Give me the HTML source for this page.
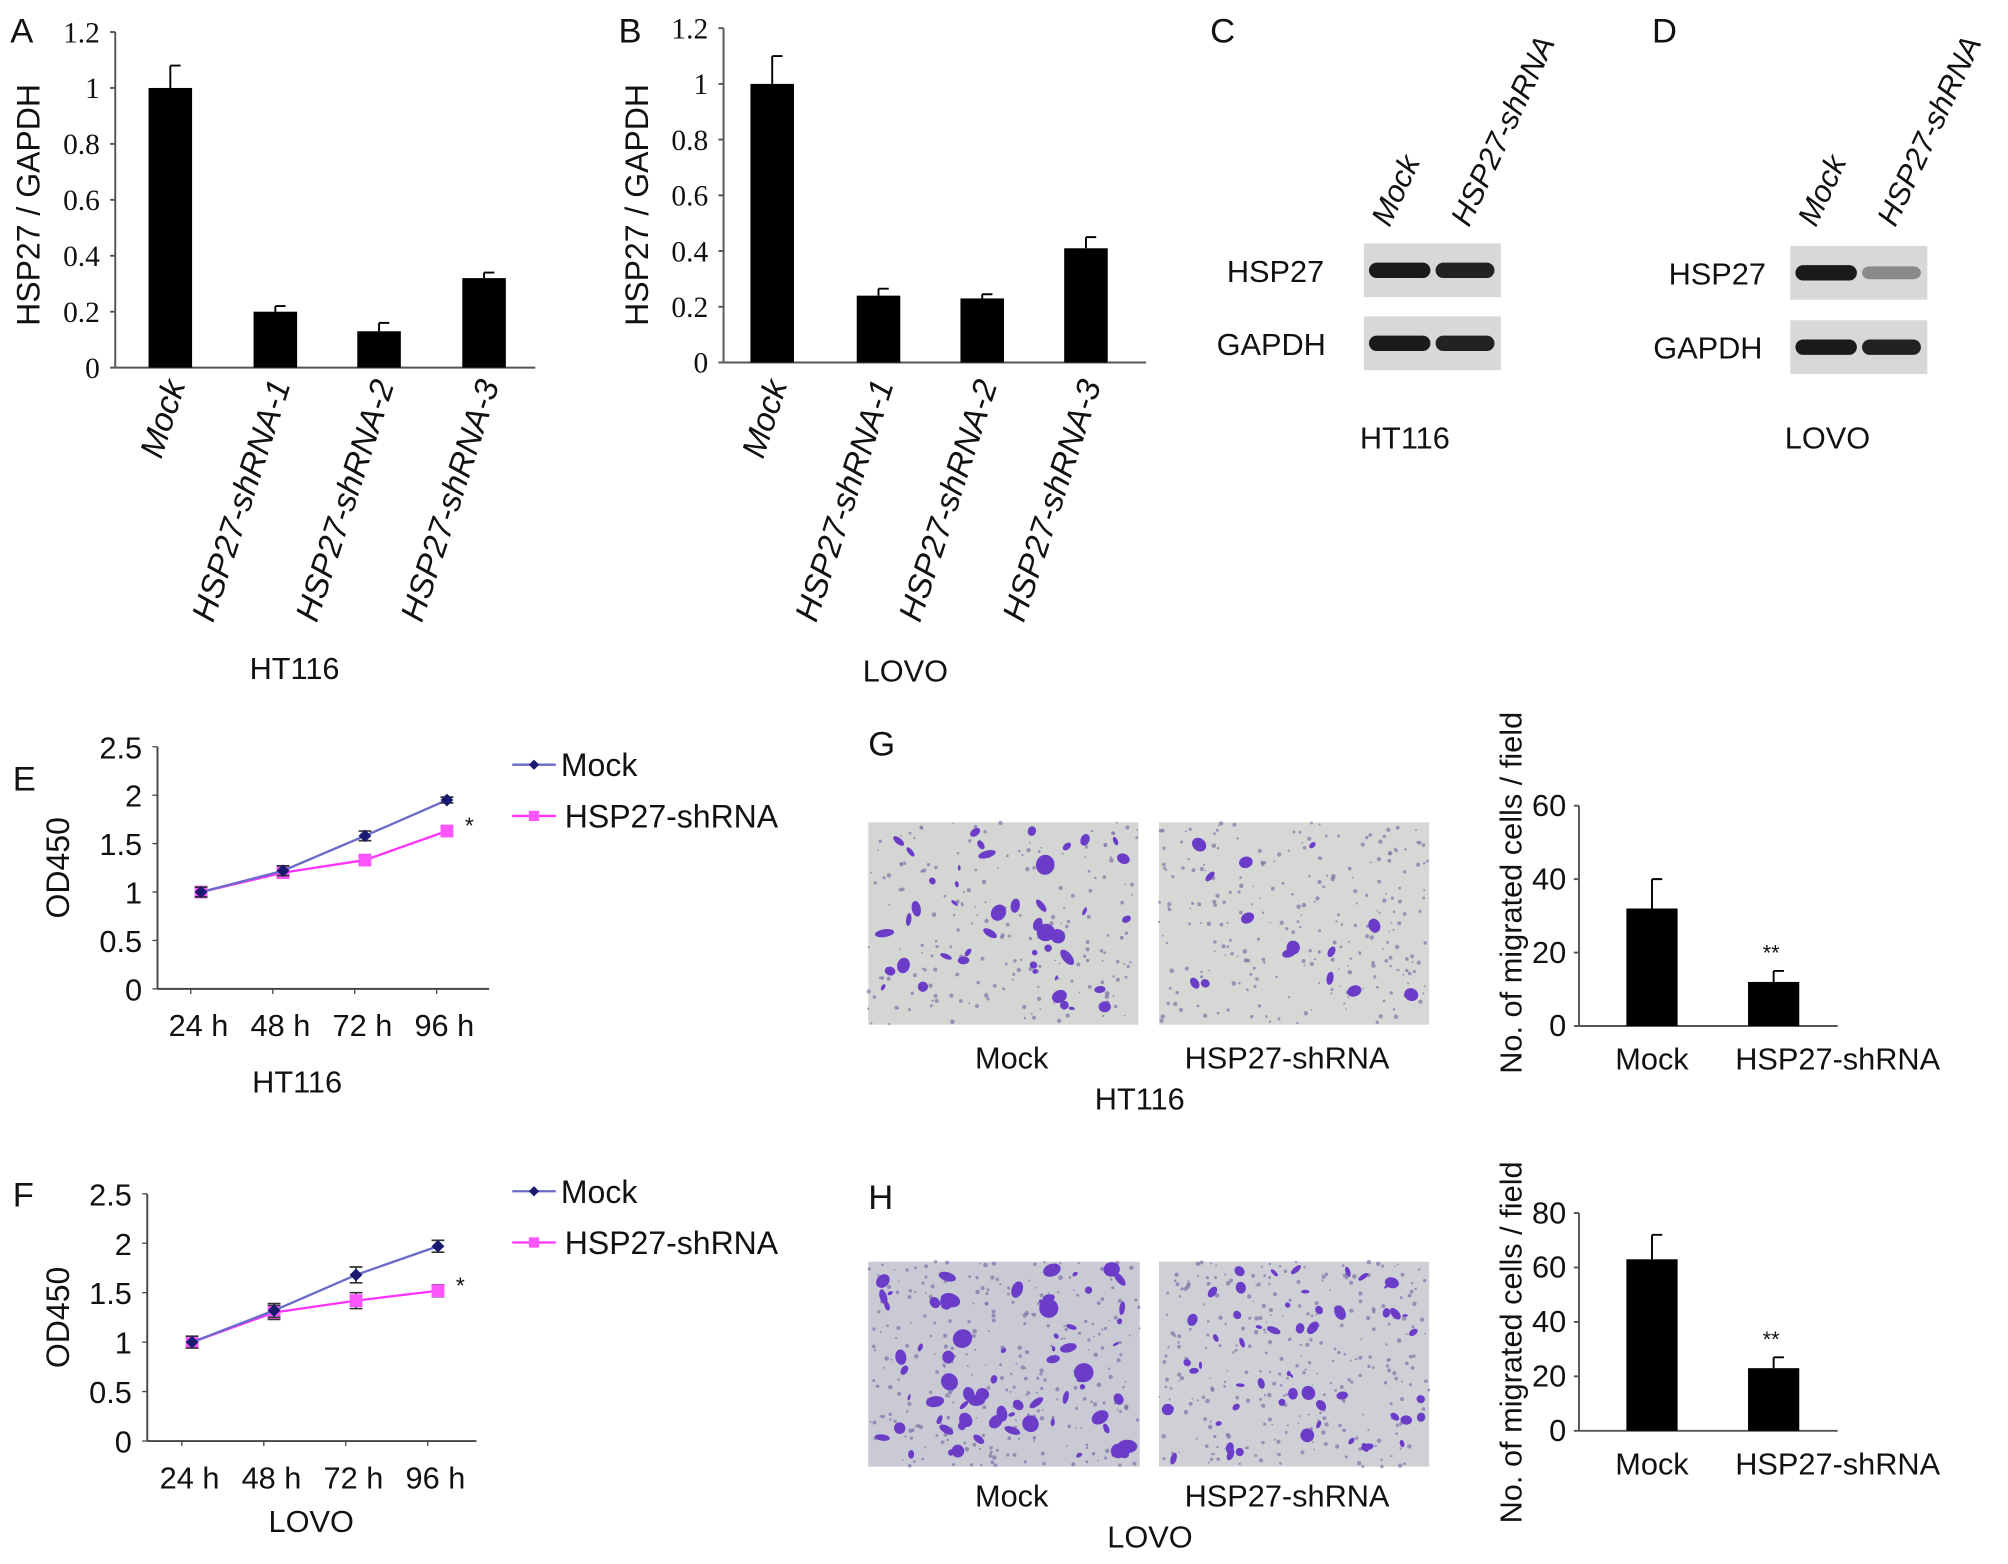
<!DOCTYPE html>
<html><head><meta charset="utf-8"><style>
html,body{margin:0;padding:0;background:#fff;}
svg{display:block;}
text{font-family:"Liberation Sans",sans-serif;fill:#111;}
.serif{font-family:"Liberation Serif",serif;}
</style></head><body>
<svg id="fig" width="2008" height="1564" viewBox="0 0 1568 1221" preserveAspectRatio="none" xmlns="http://www.w3.org/2000/svg">
<g id="root"></g>
</svg>
<script>
// ---- data ----
const catsAB = ['Mock','HSP27-shRNA-1','HSP27-shRNA-2','HSP27-shRNA-3'];
const valsA = [1.0, 0.2, 0.13, 0.32];
const errA = [0.08, 0.02, 0.03, 0.02];
const valsB = [1.0, 0.24, 0.23, 0.41];
const errB = [0.1, 0.025, 0.015, 0.04];
const ticksAB = [0, 0.2, 0.4, 0.6, 0.8, 1, 1.2];
const timeCats = ['24 h','48 h','72 h','96 h'];
const mockE = [1.0, 1.22, 1.58, 1.95];
const mockEErr = [0.05, 0.05, 0.05, 0.03];
const shE = [1.0, 1.2, 1.33, 1.63];
const shEErr = [0.05, 0.05, 0.03, 0.05];
const mockF = [1.0, 1.32, 1.68, 1.97];
const mockFErr = [0.06, 0.07, 0.08, 0.06];
const shF = [1.0, 1.3, 1.42, 1.52];
const shFErr = [0.05, 0.07, 0.08, 0.06];
const ticksEF = [0, 0.5, 1, 1.5, 2, 2.5];
const migCats = ['Mock','HSP27-shRNA'];
const migG = [32, 12];
const migGErr = [8, 3];
const ticksG = [0, 20, 40, 60];
const migH = [63, 23];
const migHErr = [9, 4];
const ticksH = [0, 20, 40, 60, 80];

const NS='http://www.w3.org/2000/svg';
const root=document.getElementById('root');
function el(tag,attrs,parent,txt){const e=document.createElementNS(NS,tag);for(const k in attrs)e.setAttribute(k,attrs[k]);if(txt!==undefined)e.textContent=txt;(parent||root).appendChild(e);return e;}
function grp(name){const g=el('g',{});


return g;}
function txt(g,name,x,y,s,size,extra){const t=el('text',Object.assign({x:x,y:y,'font-size':size},extra||{}),g,s);


return t;}

function barPanel(o){
  const g=grp(o.name);
  const ys=v=>o.y0-(v/o.ymax)*(o.y0-o.ytop);
  el('line',{x1:o.ax,y1:o.ytop,x2:o.ax,y2:o.y0,stroke:'#555','stroke-width':1.5},g);
  el('line',{x1:o.ax,y1:o.y0,x2:o.xend,y2:o.y0,stroke:'#555','stroke-width':1.5},g);
  o.ticks.forEach(t=>{
    el('line',{x1:o.ax-4,y1:ys(t),x2:o.ax,y2:ys(t),stroke:'#555','stroke-width':1.5},g);
    txt(g,'y-tick-label',o.ax-(o.serif?12:10),ys(t)+8,String(t),o.tsize,{'text-anchor':'end',class:o.serif?'serif':''});
  });
  o.vals.forEach((v,i)=>{
    const cx=o.cx[i];
    const r=el('rect',{x:cx-o.bw/2,y:ys(v),width:o.bw,height:o.y0-ys(v),fill:'#000'},g);
    
    
    const ye=ys(v+o.err[i]);
    const e=el('path',{d:`M${cx},${ys(v)} V${ye} M${cx},${ye} H${cx+8}`,stroke:'#000','stroke-width':1.5,fill:'none'},g);
    
    
  });
  return {g,ys};
}

// Panel A
(function(){
  const cx=[133,215,296,378];
  const p=barPanel({name:'panel-a-chart',ax:90,ytop:25,y0:287,xend:418,ymax:1.2,ticks:ticksAB,vals:valsA,err:errA,cx:cx,bw:34,cats:catsAB,serif:true,tsize:23});
  txt(p.g,'panel-label-a',8,33,'A',27);
  txt(p.g,'y-axis-title',0,0,'HSP27 / GAPDH',25,{transform:'translate(31,160) rotate(-90)','text-anchor':'middle'});
  catsAB.forEach((c,i)=>txt(p.g,'x-tick-label',0,0,c,26,{transform:`translate(${cx[i]+12},300) rotate(-72)`,'text-anchor':'end','font-style':'italic'}));
  txt(p.g,'cell-line-label',230,530,'HT116',24,{'text-anchor':'middle'});
})();
// Panel B
(function(){
  const cx=[603,686,767,848];
  const p=barPanel({name:'panel-b-chart',ax:565,ytop:22,y0:283,xend:895,ymax:1.2,ticks:ticksAB,vals:valsB,err:errB,cx:cx,bw:34,cats:catsAB,serif:true,tsize:23});
  txt(p.g,'panel-label-b',483,33,'B',27);
  txt(p.g,'y-axis-title',0,0,'HSP27 / GAPDH',25,{transform:'translate(506,160) rotate(-90)','text-anchor':'middle'});
  catsAB.forEach((c,i)=>txt(p.g,'x-tick-label',0,0,c,26,{transform:`translate(${cx[i]+12},300) rotate(-72)`,'text-anchor':'end','font-style':'italic'}));
  txt(p.g,'cell-line-label',707,532,'LOVO',24,{'text-anchor':'middle'});
})();
// Western blots
function blot(name,letter,lx,bx,by1,by2,lbx1,lbx2,cell,cx,faint){
  const g=grp(name);
  txt(g,'panel-label-'+letter.toLowerCase(),lx,33,letter,27);
  txt(g,'lane-label',0,0,'Mock',24,{transform:`translate(${bx+20},178) rotate(-65)`,'font-style':'italic'});
  txt(g,'lane-label',0,0,'HSP27-shRNA',24,{transform:`translate(${bx+82},178) rotate(-65)`,'font-style':'italic'});
  [[by1,'HSP27',lbx1],[by2,'GAPDH',lbx2]].forEach(([y,l,lx2],k)=>{
    el('rect',{x:bx,y:y,width:107,height:42,fill:'#d8d8d8'},g);
    el('rect',{x:bx+4,y:y+15,width:48,height:12,rx:6,fill:'#1a1a1a'},g);
    el('rect',{x:bx+56,y:y+15+(k==0&&faint?1:0),width:46,height:k==0&&faint?10:12,rx:6,fill:k==0&&faint?'#8a8a8a':'#222'},g);
    txt(g,'band-label',lx2,y+30,l,24);
  });
  txt(g,'cell-line-label',cx,350,cell,24,{'text-anchor':'middle'});
}
blot('panel-c-blot','C',945,1065,190,247,958,950,'HT116',1097,false);
blot('panel-d-blot','D',1290,1398,192,250,1303,1291,'LOVO',1427,true);

// Line panels
function linePanel(o){
  const g=grp(o.name);
  const ys=v=>o.y0-(v/2.5)*(o.y0-o.ytop);
  const xs=i=>o.x0+i*o.dx;
  el('line',{x1:o.ax,y1:o.ytop,x2:o.ax,y2:o.y0,stroke:'#444','stroke-width':1.5},g);
  el('line',{x1:o.ax,y1:o.y0,x2:o.xend,y2:o.y0,stroke:'#444','stroke-width':1.5},g);
  ticksEF.forEach(t=>{
    el('line',{x1:o.ax-4,y1:ys(t),x2:o.ax,y2:ys(t),stroke:'#444'},g);
    txt(g,'y-tick-label',o.ax-12,ys(t)+9,String(t),24,{'text-anchor':'end'});
  });
  timeCats.forEach((c,i)=>{
    el('line',{x1:xs(i)-8,y1:o.y0,x2:xs(i)-8,y2:o.y0+4,stroke:'#444'},g);
    txt(g,'x-tick-label',xs(i)-2,o.y0+37,c,24,{'text-anchor':'middle'});
  });
  [[o.sh,o.shErr,'#ff33ff','#ff55ff','shrna'],[o.mock,o.mockErr,'#6a6ac8','#1a1a70','mock']].forEach(([v,e,lc,mc,n])=>{
    const pl=el('polyline',{points:v.map((d,i)=>xs(i)+','+ys(d)).join(' '),fill:'none',stroke:lc,'stroke-width':1.8},g);
    
    
    v.forEach((d,i)=>{
      el('path',{d:`M${xs(i)-5},${ys(d+e[i])}H${xs(i)+5}M${xs(i)},${ys(d+e[i])}V${ys(d-e[i])}M${xs(i)-5},${ys(d-e[i])}H${xs(i)+5}`,stroke:'#333','stroke-width':1.3,fill:'none'},g);
      const m=n=='mock'?el('path',{d:`M${xs(i)},${ys(d)-5}L${xs(i)+5},${ys(d)}L${xs(i)},${ys(d)+5}L${xs(i)-5},${ys(d)}Z`,fill:mc},g):el('rect',{x:xs(i)-5,y:ys(d)-5,width:10,height:10,fill:mc},g);
      
      
    });
  });
  txt(g,'significance-star',xs(3)+14,ys(o.sh[3])+2,'*',18);
  txt(g,'panel-label',10,o.ly,o.letter,27);
  txt(g,'y-axis-title',0,0,'OD450',25,{transform:`translate(54,${(o.ytop+o.y0)/2}) rotate(-90)`,'text-anchor':'middle'});
  txt(g,'cell-line-label',o.cellx,o.celly,o.cell,24,{'text-anchor':'middle'});
  const lg=grp('legend');g.appendChild(lg);
  el('line',{x1:400,y1:o.lgy,x2:434,y2:o.lgy,stroke:'#6a6ac8','stroke-width':1.8},lg);
  el('path',{d:`M417,${o.lgy-4}L421,${o.lgy}L417,${o.lgy+4}L413,${o.lgy}Z`,fill:'#1a1a70'},lg);
  txt(lg,'legend-entry-mock',438,o.lgy+9,'Mock',25);
  el('line',{x1:400,y1:o.lgy+40,x2:434,y2:o.lgy+40,stroke:'#ff33ff','stroke-width':1.8},lg);
  el('rect',{x:413,y:o.lgy+36,width:8,height:8,fill:'#ff55ff'},lg);
  txt(lg,'legend-entry-shrna',441,o.lgy+49,'HSP27-shRNA',25);
}
linePanel({name:'panel-e-chart',letter:'E',ly:617,ax:123,ytop:583,y0:772,xend:382,x0:157,dx:64,mock:mockE,mockErr:mockEErr,sh:shE,shErr:shEErr,cell:'HT116',cellx:232,celly:853,lgy:597});
linePanel({name:'panel-f-chart',letter:'F',ly:942,ax:115,ytop:932,y0:1125,xend:372,x0:150,dx:64,mock:mockF,mockErr:mockFErr,sh:shF,shErr:shFErr,cell:'LOVO',cellx:243,celly:1196,lgy:930});

// Microscopy images (decorative)
let seed=7;function rnd(){seed=(seed*16807)%2147483647;return seed/2147483647;}
function micro(name,x,y,w,h,nBig,nSmall,bg,maxR){
  const g=grp(name);
  el('rect',{x:x,y:y,width:w,height:h,fill:bg},g);
  for(let i=0;i<nSmall;i++)el('circle',{cx:x+rnd()*w,cy:y+rnd()*h,r:0.6+rnd()*1.2,fill:'#6a5a9a',opacity:0.55},g);
  for(let i=0;i<nBig;i++){const cx=x+6+rnd()*(w-12),cy=y+6+rnd()*(h-12),r=2+rnd()*maxR;
    el('ellipse',{cx:cx,cy:cy,rx:r,ry:r*(0.4+rnd()*0.6),transform:`rotate(${rnd()*180} ${cx} ${cy})`,fill:'#6a3cc8'},g);}
}
micro('image-g-mock',678,642,211,158,45,200,'#d3d6d3',6);
micro('image-g-shrna',905,642,211,158,14,260,'#d6d8d5',4);
micro('image-h-mock',678,985,212,160,70,300,'#c9cad4',6);
micro('image-h-shrna',905,985,211,160,55,300,'#cfd0d6',4);
(function(){const g=grp('panel-gh-labels');
txt(g,'panel-label-g',678,590,'G',27);
txt(g,'panel-label-h',678,944,'H',27);
txt(g,'image-label',790,834,'Mock',24,{'text-anchor':'middle'});
txt(g,'image-label',1005,834,'HSP27-shRNA',24,{'text-anchor':'middle'});
txt(g,'cell-line-label',890,866,'HT116',24,{'text-anchor':'middle'});
txt(g,'image-label',790,1176,'Mock',24,{'text-anchor':'middle'});
txt(g,'image-label',1005,1176,'HSP27-shRNA',24,{'text-anchor':'middle'});
txt(g,'cell-line-label',898,1208,'LOVO',24,{'text-anchor':'middle'});})();

// Migration bar charts
function migPanel(o){
  const p=barPanel({name:o.name,ax:1233,ytop:o.ytop,y0:o.y0,xend:1435,ymax:o.ymax,ticks:o.ticks,vals:o.vals,err:o.err,cx:[1290,1385],bw:40,cats:migCats,serif:false,tsize:24});
  txt(p.g,'significance-stars',1383,p.ys(o.vals[1]+o.err[1])-8,'**',17,{'text-anchor':'middle'});
  txt(p.g,'x-tick-label',1290,o.y0+34,'Mock',24,{'text-anchor':'middle'});
  txt(p.g,'x-tick-label',1435,o.y0+34,'HSP27-shRNA',24,{'text-anchor':'middle'});
  txt(p.g,'y-axis-title',0,0,'No. of migrated cells / field',24,{transform:`translate(1188,${o.tc}) rotate(-90)`,'text-anchor':'middle'});
}
migPanel({name:'panel-g-chart',ytop:629,y0:801,ymax:60,ticks:ticksG,vals:migG,err:migGErr,tc:697});
migPanel({name:'panel-h-chart',ytop:947,y0:1117,ymax:80,ticks:ticksH,vals:migH,err:migHErr,tc:1048});
</script>
</body></html>
